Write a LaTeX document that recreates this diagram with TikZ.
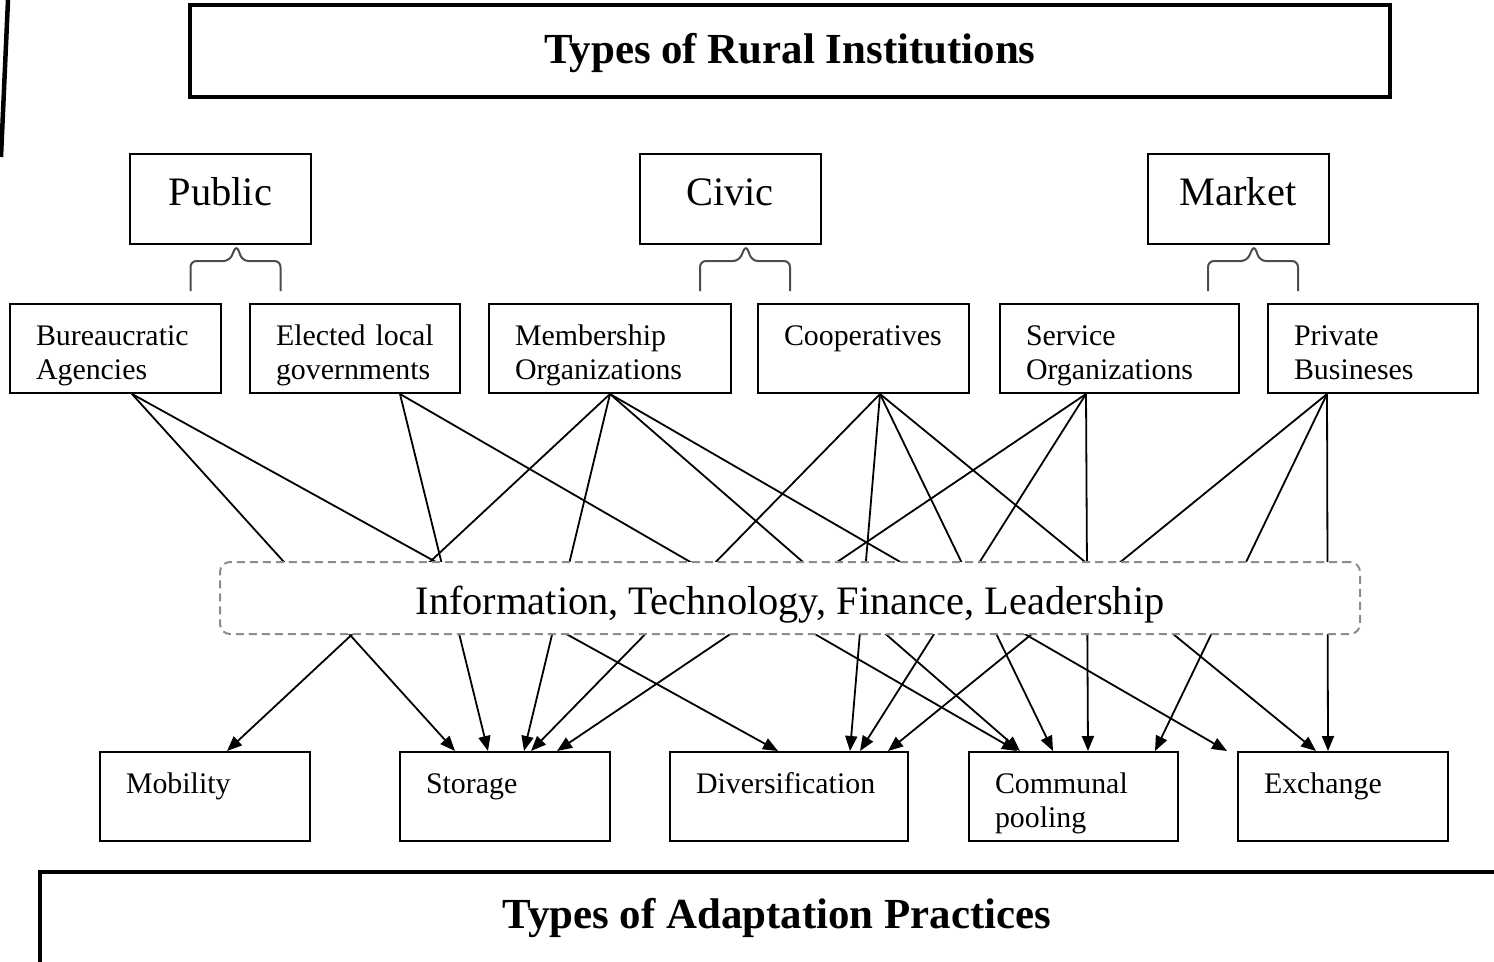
\documentclass[tikz,border=0pt]{standalone}
\usepackage{fontspec}
\setmainfont{Liberation Serif}
\usetikzlibrary{arrows.meta}
\hyphenpenalty=10000
\exhyphenpenalty=10000

\tikzset{
  headbox/.style={draw, line width=0.08cm, inner sep=0pt, font=\fontsize{24.4}{28}\selectfont\bfseries},
  groupbox/.style={draw, line width=0.04cm, minimum width=3.62cm, inner sep=0pt,
    text height=1.02cm, text depth=0.78cm, font=\fontsize{23}{27}\selectfont},
  unitbox/.style={draw, line width=0.04cm, inner xsep=0.52cm, inner ysep=0pt, text width=#1,
    align=left, text height=0.82cm, text depth=0.96cm, font=\fontsize{17}{19.4}\selectfont},
  unitbox/.default=3.16cm,
  curly/.style={draw=black!70, line width=0.04cm, rounded corners=0.12cm},
  link/.style={line width=0.036cm, -{Triangle[length=0.3cm,width=0.24cm]}},
  infobox/.style={draw=black!45, dash pattern=on 0.16cm off 0.1cm, line width=0.04cm,
    rounded corners=0.2cm, fill=white, minimum width=22.8cm, inner ysep=0pt,
    text height=1.04cm, text depth=0.4cm, font=\fontsize{23}{27}\selectfont}
}

\begin{document}
\begin{tikzpicture}
                \useasboundingbox (0,0) rectangle (29.88,-19.22);
                \clip (0,0) rectangle (29.88,-19.22);
                \draw [line width=0.09cm] (0.16,0) -- (0.02,-3.14);
                % institutions
                \node [headbox, minimum width=24cm, text height=1.16cm, text depth=0.68cm] (title) at (15.8,-1.02) {Types of Rural Institutions};
                \node [groupbox] (public) at (4.41,-3.98) {Public};
                \node [groupbox] (civic) at (14.6,-3.98) {Civic};
                \node [groupbox] (market) at (24.76,-3.98) {Market};
                \node [unitbox=3.18cm] (bur) at (2.31,-6.97) {Bureaucratic\\Agencies};
                \node [unitbox] (elec) at (7.1,-6.97) {Elected local\\governments};
                \node [unitbox=3.8cm] (memb) at (12.2,-6.97) {Membership\\Organizations};
                \node [unitbox=3.18cm] (coop) at (17.27,-6.97) {Cooperatives};
                \node [unitbox=3.74cm] (serv) at (22.39,-6.97) {Service\\Organizations};
                \node [unitbox] (priv) at (27.46,-6.97) {Private\\Busineses};
                \draw [curly] ([xshift=-0.6cm,yshift=-0.92cm]public.south) -- ++(0,0.6) -- ++(0.78,0) -- ([xshift=0.32cm]public.south) -- ++(0.12,-0.32) -- ++(0.76,0) -- ++(0,-0.6);
                \draw [curly] ([xshift=-0.6cm,yshift=-0.92cm]civic.south) -- ++(0,0.6) -- ++(0.78,0) -- ([xshift=0.32cm]civic.south) -- ++(0.12,-0.32) -- ++(0.76,0) -- ++(0,-0.6);
                \draw [curly] ([xshift=-0.6cm,yshift=-0.92cm]market.south) -- ++(0,0.6) -- ++(0.78,0) -- ([xshift=0.32cm]market.south) -- ++(0.12,-0.32) -- ++(0.76,0) -- ++(0,-0.6);
                % practices
                \node [unitbox] (mob) at (4.1,-15.93) {Mobility};
                \node [unitbox] (stor) at (10.1,-15.93) {Storage};
                \node [unitbox=3.72cm] (div) at (15.78,-15.93) {Diversification};
                \node [unitbox=3.14cm] (comm) at (21.47,-15.93) {Communal\\pooling};
                \node [unitbox] (exch) at (26.86,-15.93) {Exchange};
                \node [headbox, minimum width=29.46cm, text height=1.12cm, text depth=0.78cm] (practices) at (15.54,-18.39) {Types of Adaptation Practices};
                % links
                \draw [link] ([xshift=0.33cm]bur.south) -- ([xshift=-1cm]stor.north);
                \draw [link] ([xshift=0.33cm]bur.south) -- ([xshift=-0.22cm]div.north);
                \draw [link] ([xshift=0.9cm]elec.south) -- ([xshift=-0.34cm]stor.north);
                \draw [link] ([xshift=0.9cm]elec.south) -- ([xshift=-1.13cm]comm.north);
                \draw [link] (memb.south) -- ([xshift=0.44cm]mob.north);
                \draw [link] (memb.south) -- ([xshift=0.38cm]stor.north);
                \draw [link] (memb.south) -- ([xshift=-1.07cm]comm.north);
                \draw [link] (memb.south) -- ([xshift=-2.32cm]exch.north);
                \draw [link] ([xshift=0.33cm]coop.south) -- ([xshift=0.52cm]stor.north);
                \draw [link] ([xshift=0.33cm]coop.south) -- ([xshift=1.22cm]div.north);
                \draw [link] ([xshift=0.33cm]coop.south) -- ([xshift=-0.41cm]comm.north);
                \draw [link] ([xshift=0.33cm]coop.south) -- ([xshift=-0.54cm]exch.north);
                \draw [link] ([xshift=-0.67cm]serv.south) -- ([xshift=1.04cm]stor.north);
                \draw [link] ([xshift=-0.67cm]serv.south) -- ([xshift=1.42cm]div.north);
                \draw [link] ([xshift=-0.67cm]serv.south) -- ([xshift=0.29cm]comm.north);
                \draw [link] ([xshift=-0.92cm]priv.south) -- ([xshift=1.98cm]div.north);
                \draw [link] ([xshift=-0.92cm]priv.south) -- ([xshift=1.63cm]comm.north);
                \draw [link] ([xshift=-0.92cm]priv.south) -- ([xshift=-0.3cm]exch.north);
                \node [infobox] (info) at (15.8,-11.96) {Information, Technology, Finance, Leadership};
\end{tikzpicture}
\end{document}
